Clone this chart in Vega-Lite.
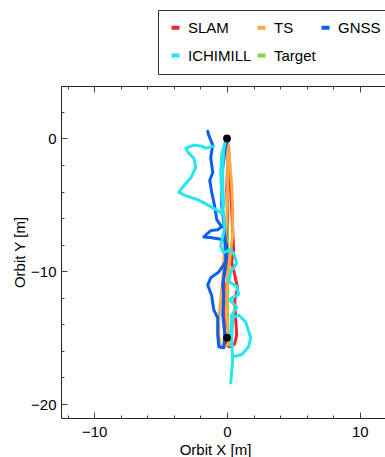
{
  "$schema": "https://vega.github.io/schema/vega-lite/v6.json",
  "width": 332,
  "height": 332,
  "autosize": {"type": "none"},
  "padding": {"left": 61, "top": 86, "right": 0, "bottom": 39},
  "background": "white",
  "config": {
    "view": {"stroke": "#222", "strokeWidth": 1},
    "font": "Liberation Sans",
    "axis": {"grid": false, "domain": false, "labelFont": "Liberation Sans", "titleFont": "Liberation Sans", "labelFontSize": 15, "titleFontSize": 15, "titleFontWeight": "normal", "labelColor": "#000", "titleColor": "#000", "tickColor": "#444", "tickWidth": 1}
  },
  "datasets": {
    "paths": [
      {"s": "Target", "i": 0, "x": 0.05, "y": 0},
      {"s": "Target", "i": 1, "x": 0.05, "y": -15},
      {"s": "SLAM", "i": 0, "x": -0.02, "y": -0.05},
      {"s": "SLAM", "i": 1, "x": 0.13, "y": -0.88},
      {"s": "SLAM", "i": 2, "x": 0.2, "y": -2.38},
      {"s": "SLAM", "i": 3, "x": 0.28, "y": -3.89},
      {"s": "SLAM", "i": 4, "x": 0.35, "y": -5.39},
      {"s": "SLAM", "i": 5, "x": 0.43, "y": -6.89},
      {"s": "SLAM", "i": 6, "x": 0.5, "y": -8.4},
      {"s": "SLAM", "i": 7, "x": 0.35, "y": -9.3},
      {"s": "SLAM", "i": 8, "x": 0.58, "y": -10.28},
      {"s": "SLAM", "i": 9, "x": 0.8, "y": -11.26},
      {"s": "SLAM", "i": 10, "x": 0.58, "y": -12.16},
      {"s": "SLAM", "i": 11, "x": 0.65, "y": -13.51},
      {"s": "SLAM", "i": 12, "x": 0.73, "y": -14.77},
      {"s": "SLAM", "i": 13, "x": 0.58, "y": -15.47},
      {"s": "SLAM", "i": 14, "x": 0.2, "y": -15.69},
      {"s": "SLAM", "i": 15, "x": -0.1, "y": -15.54},
      {"s": "SLAM", "i": 16, "x": -0.17, "y": -14.41},
      {"s": "SLAM", "i": 17, "x": -0.25, "y": -12.91},
      {"s": "SLAM", "i": 18, "x": -0.1, "y": -11.78},
      {"s": "SLAM", "i": 19, "x": -0.25, "y": -10.65},
      {"s": "SLAM", "i": 20, "x": -0.02, "y": -9.14},
      {"s": "SLAM", "i": 21, "x": -0.1, "y": -7.62},
      {"s": "SLAM", "i": 22, "x": 0.05, "y": -5.74},
      {"s": "SLAM", "i": 23, "x": -0.02, "y": -3.86},
      {"s": "SLAM", "i": 24, "x": 0.05, "y": -1.99},
      {"s": "SLAM", "i": 25, "x": -0.02, "y": -0.5},
      {"s": "TS", "i": 0, "x": -0.02, "y": -0.13},
      {"s": "TS", "i": 1, "x": 0.2, "y": -1.63},
      {"s": "TS", "i": 2, "x": 0.35, "y": -3.51},
      {"s": "TS", "i": 3, "x": 0.43, "y": -5.39},
      {"s": "TS", "i": 4, "x": 0.43, "y": -7.27},
      {"s": "TS", "i": 5, "x": 0.28, "y": -8.4},
      {"s": "TS", "i": 6, "x": 0.13, "y": -9.9},
      {"s": "TS", "i": 7, "x": -0.02, "y": -11.41},
      {"s": "TS", "i": 8, "x": -0.02, "y": -12.91},
      {"s": "TS", "i": 9, "x": 0.05, "y": -14.41},
      {"s": "TS", "i": 10, "x": 0.13, "y": -15.54},
      {"s": "TS", "i": 11, "x": -0.47, "y": -15.77},
      {"s": "TS", "i": 12, "x": -0.62, "y": -14.77},
      {"s": "TS", "i": 13, "x": -0.62, "y": -13.63},
      {"s": "TS", "i": 14, "x": -0.47, "y": -12.13},
      {"s": "TS", "i": 15, "x": -0.32, "y": -10.65},
      {"s": "TS", "i": 16, "x": -0.25, "y": -9.37},
      {"s": "TS", "i": 17, "x": -0.17, "y": -8.02},
      {"s": "TS", "i": 18, "x": -0.02, "y": -6.14},
      {"s": "TS", "i": 19, "x": 0.05, "y": -3.89},
      {"s": "TS", "i": 20, "x": 0.05, "y": -2.0},
      {"s": "TS", "i": 21, "x": -0.02, "y": -0.5},
      {"s": "GNSS", "i": 0, "x": -0.02, "y": -0.13},
      {"s": "GNSS", "i": 1, "x": -0.17, "y": -1.03},
      {"s": "GNSS", "i": 2, "x": -0.32, "y": -2.23},
      {"s": "GNSS", "i": 3, "x": -0.4, "y": -3.51},
      {"s": "GNSS", "i": 4, "x": -0.4, "y": -5.02},
      {"s": "GNSS", "i": 5, "x": -0.25, "y": -6.26},
      {"s": "GNSS", "i": 6, "x": -0.17, "y": -7.24},
      {"s": "GNSS", "i": 7, "x": -0.1, "y": -8.38},
      {"s": "GNSS", "i": 8, "x": -0.1, "y": -9.29},
      {"s": "GNSS", "i": 9, "x": -0.62, "y": -10.05},
      {"s": "GNSS", "i": 10, "x": -1.23, "y": -10.5},
      {"s": "GNSS", "i": 11, "x": -1.45, "y": -11.03},
      {"s": "GNSS", "i": 12, "x": -1.15, "y": -11.85},
      {"s": "GNSS", "i": 13, "x": -1.0, "y": -12.9},
      {"s": "GNSS", "i": 14, "x": -0.7, "y": -13.5},
      {"s": "GNSS", "i": 15, "x": -0.7, "y": -14.77},
      {"s": "GNSS", "i": 16, "x": -0.62, "y": -15.68},
      {"s": "GNSS", "i": 17, "x": -0.25, "y": -15.76},
      {"s": "GNSS", "i": 18, "x": -0.17, "y": -14.77},
      {"s": "GNSS", "i": 19, "x": -0.32, "y": -13.26},
      {"s": "GNSS", "i": 20, "x": -0.25, "y": -11.76},
      {"s": "GNSS", "i": 21, "x": -0.32, "y": -11.0},
      {"s": "GNSS", "i": 22, "x": -0.17, "y": -9.87},
      {"s": "GNSS", "i": 23, "x": -0.02, "y": -8.74},
      {"s": "GNSS", "i": 24, "x": -0.02, "y": -8.02},
      {"s": "GNSS", "i": 25, "x": -0.25, "y": -7.62},
      {"s": "GNSS", "i": 26, "x": -1.15, "y": -7.47},
      {"s": "GNSS", "i": 27, "x": -1.75, "y": -7.42},
      {"s": "GNSS", "i": 28, "x": -1.23, "y": -6.94},
      {"s": "GNSS", "i": 29, "x": -0.7, "y": -6.87},
      {"s": "GNSS", "i": 30, "x": -0.4, "y": -6.65},
      {"s": "GNSS", "i": 31, "x": -0.77, "y": -6.12},
      {"s": "GNSS", "i": 32, "x": -0.92, "y": -5.14},
      {"s": "GNSS", "i": 33, "x": -1.15, "y": -4.05},
      {"s": "GNSS", "i": 34, "x": -1.3, "y": -3.16},
      {"s": "GNSS", "i": 35, "x": -1.07, "y": -2.56},
      {"s": "GNSS", "i": 36, "x": -1.23, "y": -1.45},
      {"s": "GNSS", "i": 37, "x": -1.07, "y": -0.5},
      {"s": "GNSS", "i": 38, "x": -1.38, "y": 0.25},
      {"s": "GNSS", "i": 39, "x": -1.45, "y": 0.55},
      {"s": "ICHIMILL", "i": 0, "x": -1.0, "y": -0.58},
      {"s": "ICHIMILL", "i": 1, "x": -1.6, "y": -0.73},
      {"s": "ICHIMILL", "i": 2, "x": -1.9, "y": -0.58},
      {"s": "ICHIMILL", "i": 3, "x": -2.5, "y": -0.5},
      {"s": "ICHIMILL", "i": 4, "x": -3.1, "y": -0.73},
      {"s": "ICHIMILL", "i": 5, "x": -2.95, "y": -1.03},
      {"s": "ICHIMILL", "i": 6, "x": -2.5, "y": -1.48},
      {"s": "ICHIMILL", "i": 7, "x": -2.35, "y": -2.16},
      {"s": "ICHIMILL", "i": 8, "x": -2.73, "y": -2.98},
      {"s": "ICHIMILL", "i": 9, "x": -3.33, "y": -3.66},
      {"s": "ICHIMILL", "i": 10, "x": -3.63, "y": -4.04},
      {"s": "ICHIMILL", "i": 11, "x": -3.25, "y": -4.26},
      {"s": "ICHIMILL", "i": 12, "x": -2.13, "y": -4.64},
      {"s": "ICHIMILL", "i": 13, "x": -1.15, "y": -5.17},
      {"s": "ICHIMILL", "i": 14, "x": -0.4, "y": -5.62},
      {"s": "ICHIMILL", "i": 15, "x": -0.25, "y": -5.02},
      {"s": "ICHIMILL", "i": 16, "x": -0.32, "y": -3.51},
      {"s": "ICHIMILL", "i": 17, "x": -0.32, "y": -2.0},
      {"s": "ICHIMILL", "i": 18, "x": -0.25, "y": -0.88},
      {"s": "ICHIMILL", "i": 19, "x": -0.17, "y": -0.35},
      {"s": "ICHIMILL", "i": 20, "x": -0.4, "y": -1.25},
      {"s": "ICHIMILL", "i": 21, "x": -0.47, "y": -2.76},
      {"s": "ICHIMILL", "i": 22, "x": -0.4, "y": -4.26},
      {"s": "ICHIMILL", "i": 23, "x": -0.25, "y": -5.77},
      {"s": "ICHIMILL", "i": 24, "x": -0.17, "y": -6.71},
      {"s": "ICHIMILL", "i": 25, "x": -0.32, "y": -7.39},
      {"s": "ICHIMILL", "i": 26, "x": -0.47, "y": -8.14},
      {"s": "ICHIMILL", "i": 27, "x": -0.25, "y": -8.59},
      {"s": "ICHIMILL", "i": 28, "x": 0.28, "y": -8.37},
      {"s": "ICHIMILL", "i": 29, "x": 0.58, "y": -8.82},
      {"s": "ICHIMILL", "i": 30, "x": 0.73, "y": -9.42},
      {"s": "ICHIMILL", "i": 31, "x": 0.28, "y": -10.02},
      {"s": "ICHIMILL", "i": 32, "x": 0.13, "y": -10.77},
      {"s": "ICHIMILL", "i": 33, "x": 0.73, "y": -11.14},
      {"s": "ICHIMILL", "i": 34, "x": 0.88, "y": -11.74},
      {"s": "ICHIMILL", "i": 35, "x": 0.2, "y": -12.12},
      {"s": "ICHIMILL", "i": 36, "x": 0.73, "y": -12.72},
      {"s": "ICHIMILL", "i": 37, "x": 0.35, "y": -13.32},
      {"s": "ICHIMILL", "i": 38, "x": 0.28, "y": -14.77},
      {"s": "ICHIMILL", "i": 39, "x": 0.43, "y": -16.44},
      {"s": "ICHIMILL", "i": 40, "x": 1.1, "y": -16.29},
      {"s": "ICHIMILL", "i": 41, "x": 1.63, "y": -15.69},
      {"s": "ICHIMILL", "i": 42, "x": 1.78, "y": -15.01},
      {"s": "ICHIMILL", "i": 43, "x": 1.4, "y": -13.81},
      {"s": "ICHIMILL", "i": 44, "x": 0.88, "y": -13.29},
      {"s": "ICHIMILL", "i": 45, "x": 0.43, "y": -13.51},
      {"s": "ICHIMILL", "i": 46, "x": 0.35, "y": -15.17},
      {"s": "ICHIMILL", "i": 47, "x": 0.43, "y": -16.67},
      {"s": "ICHIMILL", "i": 48, "x": 0.28, "y": -18.41}
    ],
    "dots": [
      {"x": 0, "y": 0},
      {"x": 0, "y": -15}
    ]
  },
  "resolve": {"axis": {"x": "independent", "y": "independent"}},
  "layer": [
    {
      "data": {"name": "paths"},
      "mark": {"type": "line", "strokeWidth": 3, "strokeCap": "round", "strokeJoin": "round", "clip": true},
      "encoding": {
        "x": {"field": "x", "type": "quantitative", "scale": {"domain": [-12.5, 12.5], "nice": false, "zero": false},
          "axis": {"orient": "bottom", "title": "Orbit X [m]", "values": [-12, -10, -8, -6, -4, -2, 0, 2, 4, 6, 8, 10, 12],
            "labelExpr": "datum.value % 10 === 0 ? datum.label : ''",
            "tickSize": {"condition": {"test": "datum.value % 10 === 0", "value": -6}, "value": -3},
            "labelPadding": 12, "titlePadding": 3, "titleX": 154}},
        "y": {"field": "y", "type": "quantitative", "scale": {"domain": [-21.05, 3.95], "nice": false, "zero": false},
          "axis": {"orient": "left", "title": "Orbit Y [m]", "values": [-20, -18, -16, -14, -12, -10, -8, -6, -4, -2, 0, 2],
            "labelExpr": "datum.value % 10 === 0 ? datum.label : ''",
            "tickSize": {"condition": {"test": "datum.value % 10 === 0", "value": -6}, "value": -3},
            "labelPadding": 11, "titlePadding": 3}},
        "color": {"field": "s", "type": "nominal",
          "scale": {"domain": ["SLAM", "TS", "GNSS", "ICHIMILL", "Target"], "range": ["#f0262c", "#fba845", "#0b5ff0", "#25e6ec", "#80d83c"]},
          "legend": {"title": null, "orient": "none", "legendX": 97, "legendY": -76, "direction": "horizontal", "columns": 3, "gridAlign": "each",
            "strokeColor": "#333", "padding": 10, "rowPadding": 11, "columnPadding": -3,
            "labelFont": "Liberation Sans", "labelFontSize": 15, "labelColor": "#000", "labelOffset": 5,
            "symbolType": "stroke", "symbolSize": 64, "symbolStrokeWidth": 4}},
        "order": {"field": "i", "type": "quantitative"}
      }
    },
    {
      "data": {"name": "dots"},
      "mark": {"type": "point", "filled": true, "color": "#000", "size": 60, "opacity": 1},
      "encoding": {
        "x": {"field": "x", "type": "quantitative",
          "axis": {"orient": "top", "title": null, "values": [-12, -10, -8, -6, -4, -2, 0, 2, 4, 6, 8, 10, 12], "labels": false,
            "tickSize": {"condition": {"test": "datum.value % 10 === 0", "value": -6}, "value": -3}}},
        "y": {"field": "y", "type": "quantitative",
          "axis": {"orient": "right", "title": null, "values": [-20, -18, -16, -14, -12, -10, -8, -6, -4, -2, 0, 2], "labels": false,
            "tickSize": {"condition": {"test": "datum.value % 10 === 0", "value": -6}, "value": -3}}}
      }
    }
  ]
}
